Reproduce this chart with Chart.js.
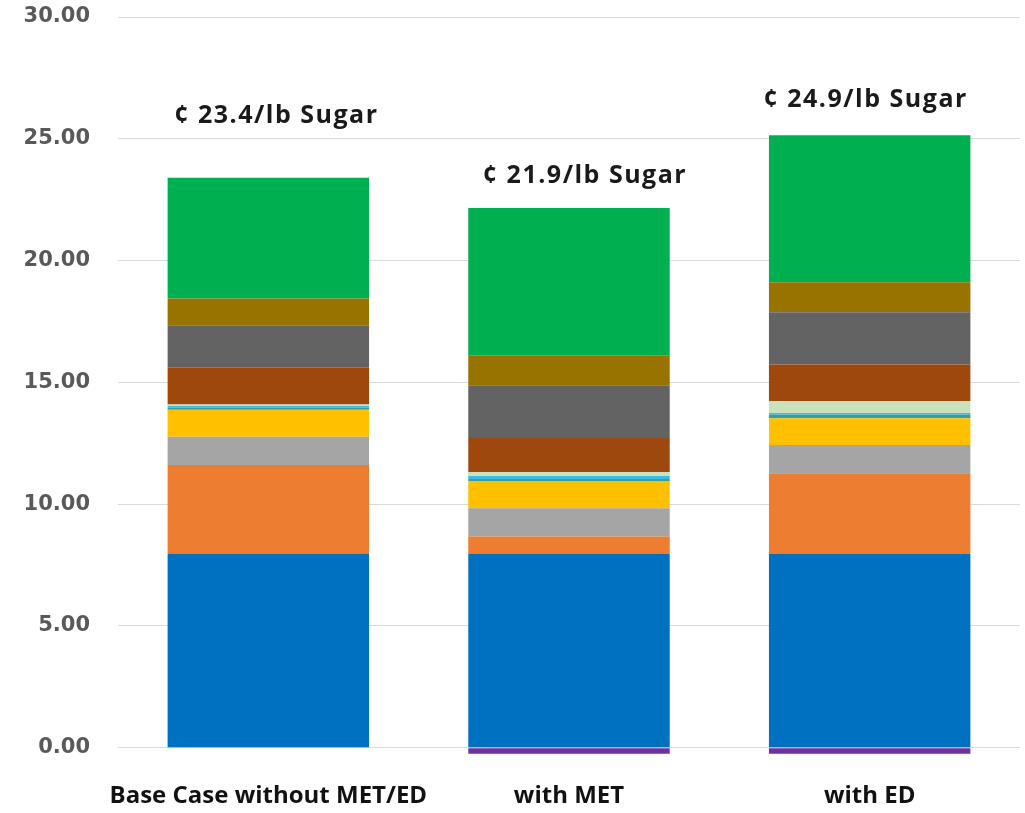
<!DOCTYPE html>
<html>
<head>
<meta charset="utf-8">
<title>Sugar cost breakdown</title>
<script src="https://cdn.jsdelivr.net/npm/chart.js@4.4.1/dist/chart.umd.min.js"></script>
<style>
  html, body { margin: 0; padding: 0; background: #ffffff; }
  #wrap { position: relative; width: 1025px; height: 813px; }
</style>
</head>
<body>
<div id="wrap"><canvas id="chart" width="1025" height="813"></canvas></div>
<script>
// Scenarios
const categories = ['Base Case without MET/ED', 'with MET', 'with ED'];

// Cost components, ¢/lb sugar, stacked bottom to top
const credit      = [0.00, -0.25, -0.25];
const feedstock   = [7.95, 7.95, 7.95];
const component2  = [3.66, 0.72, 3.32];
const component3  = [1.16, 1.16, 1.16];
const component4  = [1.10, 1.12, 1.10];
const component5  = [0.10, 0.08, 0.14];
const component6  = [0.06, 0.12, 0.07];
const component7  = [0.06, 0.16, 0.48];
const component8  = [1.51, 1.41, 1.51];
const component9  = [1.74, 2.16, 2.15];
const component10 = [1.10, 1.23, 1.23];
const component11 = [4.96, 6.05, 6.04];

// Y axis tick range
const yTickMin = 0;
const yTickMax = 30;
const yTickStep = 5;

const seriesList = [
  { label: 'Credit',       data: credit,      color: '#7030A0' },
  { label: 'Feedstock',    data: feedstock,   color: '#0070C0' },
  { label: 'Component 2',  data: component2,  color: '#ED7D31' },
  { label: 'Component 3',  data: component3,  color: '#A5A5A5' },
  { label: 'Component 4',  data: component4,  color: '#FFC000' },
  { label: 'Component 5',  data: component5,  color: '#3C9C98' },
  { label: 'Component 6',  data: component6,  color: '#38BDEB' },
  { label: 'Component 7',  data: component7,  color: '#C9E2BC' },
  { label: 'Component 8',  data: component8,  color: '#9E480E' },
  { label: 'Component 9',  data: component9,  color: '#636363' },
  { label: 'Component 10', data: component10, color: '#997300' },
  { label: 'Component 11', data: component11, color: '#00B050' }
];

// Nudges for the total labels above each bar (pixels)
const totalLabelNudge = [
  { dx: 8,  dy: 62 },
  { dx: 16, dy: 32 },
  { dx: -4, dy: 35 }
];

const totalLabels = {
  id: 'totalLabels',
  afterDatasetsDraw(chart) {
    const ctx = chart.ctx;
    const yScale = chart.scales.y;
    const xScale = chart.scales.x;
    ctx.save();
    ctx.font = 'bold 25px "Open Sans", sans-serif';
    ctx.letterSpacing = '1.5px';
    ctx.fillStyle = '#1a1a1a';
    ctx.textAlign = 'center';
    ctx.textBaseline = 'middle';
    categories.forEach((c, i) => {
      let net = 0, top = 0;
      seriesList.forEach(s => {
        const v = s.data[i];
        net += v;
        if (v > 0) top += v;
      });
      const x = xScale.getPixelForValue(i) + totalLabelNudge[i].dx;
      const y = yScale.getPixelForValue(top) - totalLabelNudge[i].dy;
      ctx.fillText('\u00A2 ' + net.toFixed(1) + '/lb Sugar', x, y);
    });
    ctx.restore();
  }
};

new Chart(document.getElementById('chart'), {
  type: 'bar',
  data: {
    labels: categories,
    datasets: seriesList.map(s => ({
      label: s.label,
      data: s.data,
      backgroundColor: s.color,
      borderWidth: 0,
      barPercentage: 0.67,
      categoryPercentage: 1.0
    }))
  },
  options: {
    responsive: false,
    animation: false,
    devicePixelRatio: 1,
    layout: { padding: { top: 17, right: 5, bottom: 4, left: 0 } },
    plugins: {
      legend: { display: false },
      tooltip: { enabled: false }
    },
    scales: {
      x: {
        stacked: true,
        grid: { display: false, drawTicks: false },
        border: { display: false },
        afterFit(scale) { scale.height = 54; },
        ticks: {
          color: '#111111',
          padding: 27,
          autoSkip: false,
          maxRotation: 0,
          font: { family: '"Open Sans", sans-serif', size: 24, weight: 'bold' }
        }
      },
      y: {
        stacked: true,
        min: -0.3,
        max: yTickMax,
        grid: { color: '#D9D9D9', lineWidth: 1, drawTicks: false },
        border: { display: false },
        afterFit(scale) {
          scale.width = 118;
          scale.paddingTop = 0;
          scale.paddingBottom = 0;
        },
        ticks: {
          stepSize: yTickStep,
          includeBounds: false,
          padding: 28,
          color: '#595959',
          font: { family: '"DejaVu Sans", sans-serif', size: 21, weight: 'bold' },
          callback: v => (v >= yTickMin && v <= yTickMax) ? Number(v).toFixed(2) : ''
        }
      }
    }
  },
  plugins: [totalLabels]
});
</script>
</body>
</html>
